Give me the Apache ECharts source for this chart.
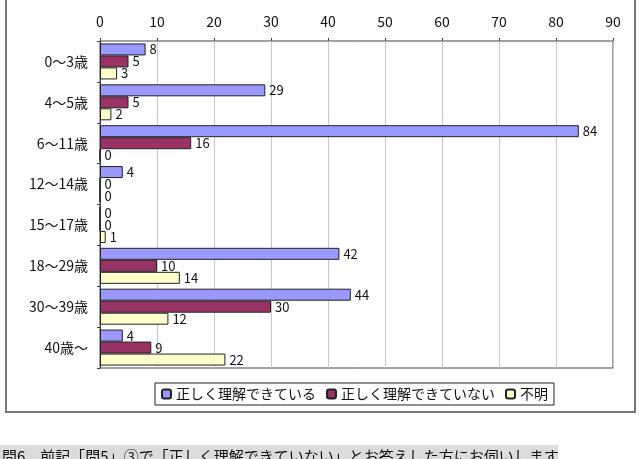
<!DOCTYPE html>
<html>
<head>
<meta charset="utf-8">
<script src="https://cdn.jsdelivr.net/npm/echarts@6/dist/echarts.min.js"></script>
<style>
html, body { margin: 0; padding: 0; background: #fff; }
#chart { width: 639px; height: 459px; }
</style>
</head>
<body>
<div id="chart"></div>
<script>
// 年齢区分
var categories = ['0～3歳', '4～5歳', '6～11歳', '12～14歳', '15～17歳', '18～29歳', '30～39歳', '40歳～'];
var seriesNames = ['正しく理解できている', '正しく理解できていない', '不明'];
var understood = [8, 29, 84, 4, 0, 42, 44, 4];
var notUnderstood = [5, 5, 16, 0, 0, 10, 30, 9];
var unknown = [3, 2, 0, 0, 1, 14, 12, 22];
var xTicks = [0, 10, 20, 30, 40, 50, 60, 70, 80, 90];

var font = '"Noto Sans CJK JP", sans-serif';
var colors = ['#9999ff', '#993366', '#ffffcc'];
var values = [understood, notUnderstood, unknown];

var myChart = echarts.init(document.getElementById('chart'));

var series = seriesNames.map(function(name, i) {
	return {
		name: name,
		type: 'bar',
		data: values[i],
		barWidth: 12,
		barGap: '0%',
		itemStyle: {
			color: colors[i],
			borderColor: '#222',
			borderWidth: 1
		},
		label: {
			show: true,
			position: 'right',
			distance: 4,
			color: '#111',
			fontSize: 13,
			fontFamily: font
		}
	};
});

var option = {
	animation: false,
	backgroundColor: '#fff',
	grid: {
		left: 100,
		right: 26,
		top: 41,
		bottom: 91,
		show: true,
		borderColor: '#444',
		borderWidth: 1
	},
	xAxis: {
		type: 'value',
		position: 'top',
		min: xTicks[0],
		max: xTicks[xTicks.length - 1],
		interval: 10,
		axisLine: { show: false },
		axisTick: { show: true, length: 3, lineStyle: { color: '#444' } },
		splitLine: { show: true, lineStyle: { color: '#c8c8c8' } },
		axisLabel: { color: '#111', fontSize: 14, fontFamily: font, margin: 12 }
	},
	yAxis: {
		type: 'category',
		inverse: true,
		data: categories,
		axisLine: { show: true, lineStyle: { color: '#444' } },
		axisTick: { show: true, length: 3, lineStyle: { color: '#444' } },
		axisLabel: { color: '#111', fontSize: 14, fontFamily: font, margin: 12 }
	},
	legend: {
		data: seriesNames,
		left: 155,
		top: 383,
		orient: 'horizontal',
		itemWidth: 9,
		itemHeight: 9,
		itemGap: 10,
		padding: [4, 6],
		borderColor: '#222',
		borderWidth: 1,
		textStyle: { color: '#111', fontSize: 14, fontFamily: font }
	},
	graphic: [
		{
			type: 'rect',
			shape: { x: 6, y: -3, width: 629, height: 415 },
			style: { fill: 'none', stroke: '#777', lineWidth: 2 },
			silent: true
		},
		{
			type: 'rect',
			shape: { x: 0, y: 445, width: 558, height: 20 },
			style: { fill: '#dcdcdc' },
			silent: true
		},
		{
			type: 'text',
			left: 2,
			top: 449,
			style: {
				text: '問6　前記「問5」③で「正しく理解できていない」とお答えした方にお伺いします',
				fill: '#111',
				fontSize: 15,
				fontFamily: font
			},
			silent: true
		}
	],
	series: series
};

myChart.setOption(option);
</script>
</body>
</html>
